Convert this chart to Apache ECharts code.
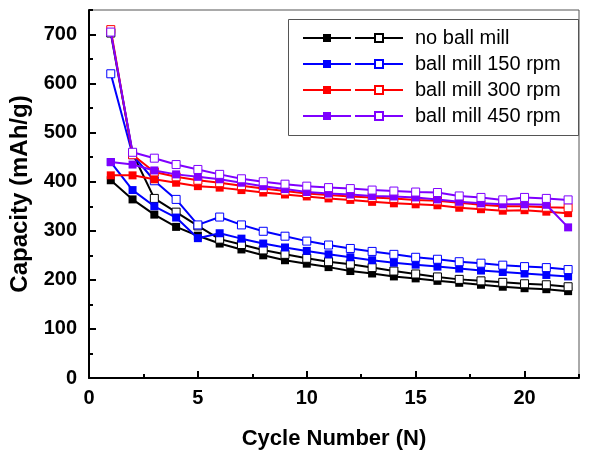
<!DOCTYPE html>
<html>
<head>
<meta charset="utf-8">
<script src="https://cdn.jsdelivr.net/npm/echarts@6/dist/echarts.min.js"></script>
<style>
  html, body { margin: 0; padding: 0; background: #fff; }
  #chart { width: 589px; height: 450px; }
</style>
</head>
<body>
<div id="chart"></div>
<script>
// 循环次数
const cycles = [1, 2, 3, 4, 5, 6, 7, 8, 9, 10, 11, 12, 13, 14, 15, 16, 17, 18, 19, 20, 21, 22];

// 实心方块 / 空心方块 两组容量 (mAh/g)
const noMillFilled = [403, 364, 333, 308, 290, 274, 262, 250, 240, 233, 226, 218, 213, 207, 203, 198, 194, 190, 186, 183, 181, 177];
const noMillOpen = [703, 458, 366, 338, 310, 283, 272, 261, 252, 244, 237, 232, 225, 218, 212, 206, 201, 198, 195, 192, 190, 186];
const rpm150Filled = [440, 383, 350, 327, 285, 295, 284, 274, 266, 259, 252, 246, 240, 235, 231, 227, 223, 219, 216, 213, 210, 207];
const rpm150Open = [620, 455, 402, 364, 312, 328, 312, 299, 289, 279, 271, 264, 258, 252, 246, 242, 237, 234, 230, 227, 225, 221];
const rpm300Filled = [413, 413, 405, 398, 391, 388, 383, 378, 374, 370, 366, 363, 359, 356, 354, 352, 347, 344, 341, 342, 339, 336];
const rpm300Open = [710, 455, 420, 410, 403, 398, 392, 386, 381, 376, 373, 370, 368, 366, 363, 361, 357, 353, 350, 350, 348, 347];
const rpm450Filled = [440, 435, 423, 415, 410, 405, 398, 391, 385, 379, 376, 374, 371, 370, 368, 364, 359, 356, 354, 354, 353, 307];
const rpm450Open = [705, 460, 448, 435, 425, 415, 406, 400, 395, 391, 388, 386, 383, 381, 379, 378, 371, 368, 363, 368, 366, 363];

const names = ['no ball mill', 'ball mill 150 rpm', 'ball mill 300 rpm', 'ball mill 450 rpm'];
const colors = ['#000000', '#0000ff', '#ff0000', '#7f00ff'];
const filledSets = [noMillFilled, rpm150Filled, rpm300Filled, rpm450Filled];
const openSets = [noMillOpen, rpm150Open, rpm300Open, rpm450Open];

const xTicks = [0, 5, 10, 15, 20];
const yTicks = [0, 100, 200, 300, 400, 500, 600, 700];

const FONT = 'Liberation Sans, Arial, sans-serif';

const pairs = (vals) => cycles.map((c, i) => [c, vals[i]]);

// 每组两条线：实心 + 空心
const series = [];
names.forEach((name, k) => {
  series.push({
    name: name + ' ',
    type: 'line',
    data: pairs(filledSets[k]),
    symbol: 'rect',
    symbolSize: 8,
    lineStyle: { color: colors[k], width: 2 },
    itemStyle: { color: colors[k], borderWidth: 0 },
    z: 2 + k * 2
  });
  series.push({
    name: name,
    type: 'line',
    data: pairs(openSets[k]),
    symbol: 'rect',
    symbolSize: 8,
    lineStyle: { color: colors[k], width: 2 },
    itemStyle: { color: '#ffffff', borderColor: colors[k], borderWidth: 1 },
    z: 3 + k * 2
  });
});

const legendBase = {
  orient: 'vertical',
  top: 28,
  padding: 0,
  itemWidth: 48,
  itemHeight: 10,
  itemGap: 6,
  selectedMode: false,
  textStyle: { fontFamily: FONT, fontSize: 20, color: '#000', lineHeight: 20 }
};

let option = {
  animation: false,
  backgroundColor: '#fff',
  grid: [
    {
      left: 89, right: 10, top: 10, bottom: 72,
      outerBoundsMode: 'none', containLabel: false,
      show: true, borderColor: '#555', borderWidth: 1
    },
    // 仅用于画次刻度
    { left: 89, right: 10, top: 10, bottom: 72, outerBoundsMode: 'none', containLabel: false }
  ],
  xAxis: [
    {
      type: 'value',
      min: 0,
      max: 22.5,
      interval: 5,
      name: 'Cycle Number (N)',
      nameLocation: 'middle',
      nameGap: 50,
      nameTextStyle: { fontFamily: FONT, fontSize: 22, fontWeight: 'bold', color: '#000' },
      axisLine: { lineStyle: { color: '#000', width: 2 } },
      axisTick: { inside: true, length: 7, lineStyle: { color: '#000', width: 2 } },
      axisLabel: {
        fontFamily: FONT, fontSize: 20, fontWeight: 'bold', color: '#000', margin: 10,
        showMaxLabel: false,
        formatter: (v) => (xTicks.includes(v) ? String(v) : '')
      },
      splitLine: { show: false }
    },
    {
      type: 'value', gridIndex: 1, min: 0, max: 22.5, interval: 2.5,
      axisLine: { show: false },
      axisTick: { inside: true, length: 4, lineStyle: { color: '#000', width: 2 } },
      axisLabel: { show: false },
      splitLine: { show: false }
    }
  ],
  yAxis: [
    {
      type: 'value',
      min: 0,
      max: 750,
      interval: 100,
      name: 'Capacity (mAh/g)',
      nameLocation: 'middle',
      nameGap: 54,
      nameTextStyle: { fontFamily: FONT, fontSize: 24, fontWeight: 'bold', color: '#000' },
      axisLine: { lineStyle: { color: '#000', width: 2 } },
      axisTick: { inside: true, length: 7, lineStyle: { color: '#000', width: 2 } },
      axisLabel: {
        fontFamily: FONT, fontSize: 20, fontWeight: 'bold', color: '#000', margin: 12,
        showMaxLabel: false,
        formatter: (v) => (yTicks.includes(v) ? String(v) : '')
      },
      splitLine: { show: false }
    },
    {
      type: 'value', gridIndex: 1, min: 0, max: 750, interval: 50,
      axisLine: { show: false },
      axisTick: { inside: true, length: 4, lineStyle: { color: '#000', width: 2 } },
      axisLabel: { show: false },
      splitLine: { show: false }
    }
  ],
  // 图例拆成两列：实心一列、空心一列带文字
  legend: [
    Object.assign({}, legendBase, {
      left: 302,
      data: names.map((n) => n + ' '),
      formatter: () => ' '
    }),
    Object.assign({}, legendBase, {
      left: 354,
      data: names.slice(),
      textStyle: Object.assign({}, legendBase.textStyle, { padding: [0, 0, 0, 7] })
    })
  ],
  graphic: [
    {
      type: 'rect',
      left: 288,
      top: 19,
      shape: { width: 290, height: 116 },
      style: { fill: 'transparent', stroke: '#555', lineWidth: 1 },
      z: 1
    }
  ],
  series: series
};

const chart = echarts.init(document.getElementById('chart'));
chart.setOption(option);
</script>
</body>
</html>
